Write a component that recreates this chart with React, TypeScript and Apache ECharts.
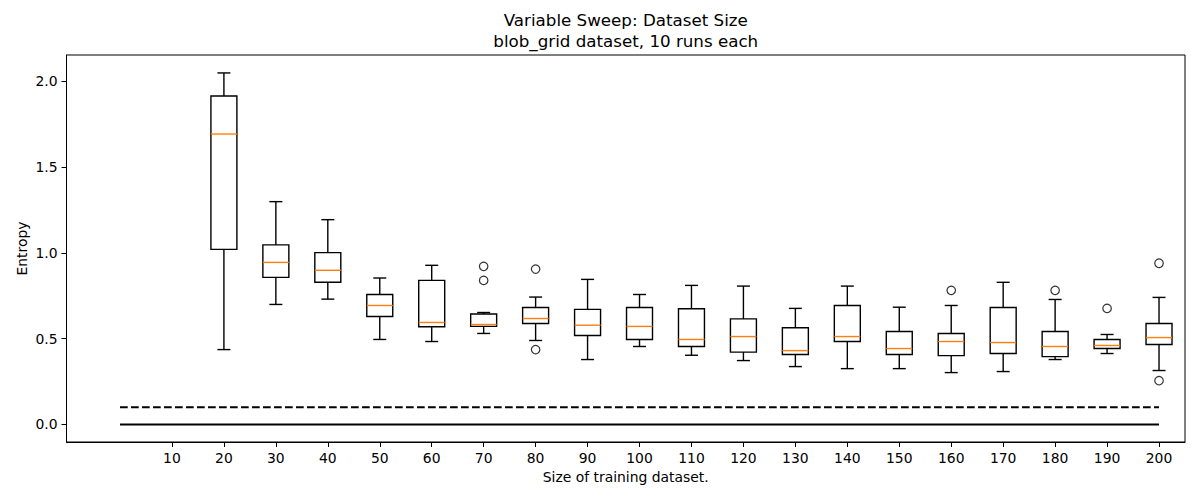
import React, { useEffect, useRef } from "react";
import * as echarts from "echarts";

const positions = [2, 3, 4, 5, 6, 7, 8, 9, 10, 11, 12, 13, 14, 15, 16, 17, 18, 19, 20];
const whiskerLow = [0.436, 0.699, 0.730, 0.495, 0.483, 0.530, 0.489, 0.378, 0.454, 0.403, 0.372, 0.337, 0.325, 0.325, 0.302, 0.308, 0.378, 0.413, 0.314];
const q1 = [1.020, 0.857, 0.828, 0.629, 0.569, 0.571, 0.588, 0.518, 0.495, 0.454, 0.421, 0.407, 0.483, 0.407, 0.401, 0.413, 0.395, 0.442, 0.466];
const median = [1.692, 0.944, 0.898, 0.693, 0.594, 0.582, 0.617, 0.578, 0.571, 0.495, 0.512, 0.430, 0.512, 0.442, 0.483, 0.477, 0.454, 0.460, 0.506];
const q3 = [1.914, 1.046, 1.001, 0.757, 0.839, 0.643, 0.681, 0.670, 0.681, 0.674, 0.615, 0.563, 0.693, 0.541, 0.530, 0.681, 0.541, 0.495, 0.588];
const whiskerHigh = [2.048, 1.298, 1.193, 0.853, 0.927, 0.652, 0.742, 0.845, 0.757, 0.810, 0.806, 0.676, 0.806, 0.683, 0.693, 0.828, 0.728, 0.524, 0.740];
const outliers: [number, number][] = [
  [7, 0.921], [7, 0.839],
  [8, 0.905], [8, 0.436],
  [16, 0.781],
  [18, 0.781],
  [19, 0.676],
  [20, 0.939], [20, 0.255],
];
const tickPositions = [1, 2, 3, 4, 5, 6, 7, 8, 9, 10, 11, 12, 13, 14, 15, 16, 17, 18, 19, 20];
const tickLabels = ["10", "20", "30", "40", "50", "60", "70", "80", "90", "100", "110", "120", "130", "140", "150", "160", "170", "180", "190", "200"];
const yTicks = [0, 0.5, 1.0, 1.5, 2.0];
const refLineSolid: [number, number][] = [[0, 0], [20, 0]];
const refLineDashed: [number, number][] = [[0, 0.1], [20, 0.1]];

const FONT = "DejaVu Sans";

export default function App() {
  const ref = useRef<HTMLDivElement>(null);
  useEffect(() => {
    if (!ref.current) return;
    const chart = echarts.init(ref.current, null, { renderer: "svg" });
    const boxData = positions.map((p, i) => [p, whiskerLow[i], q1[i], median[i], q3[i], whiskerHigh[i]]);
    const gridLeft = 66.5, gridRight = 1185, gridTop = 55, gridBottom = 442;
    const cx = (gridLeft + gridRight) / 2;
    const option: any = {
      animation: false,
      textStyle: { fontFamily: FONT },
      grid: {
        left: gridLeft,
        top: gridTop,
        width: gridRight - gridLeft,
        height: gridBottom - gridTop,
        show: true,
        borderColor: "#000",
        borderWidth: 1,
        backgroundColor: "#fff",
      },
      xAxis: {
        type: "value",
        min: -1.03,
        max: 20.5,
        splitLine: { show: false },
        axisLine: { show: true, onZero: false, lineStyle: { color: "#000", width: 1 } },
        axisTick: { show: true, customValues: tickPositions, length: 5, lineStyle: { color: "#000" } },
        axisLabel: {
          customValues: tickPositions,
          formatter: (v: number) => {
            const idx = tickPositions.indexOf(Math.round(v));
            return idx >= 0 ? tickLabels[idx] : "";
          },
          color: "#000",
          fontSize: 13.9,
          fontFamily: FONT,
          margin: 9,
        },
      },
      yAxis: {
        type: "value",
        min: -0.1025,
        max: 2.1525,
        splitLine: { show: false },
        axisLine: { show: true, onZero: false, lineStyle: { color: "#000", width: 1 } },
        axisTick: { show: true, customValues: yTicks, length: 5, lineStyle: { color: "#000" } },
        axisLabel: {
          customValues: yTicks,
          formatter: (v: number) => v.toFixed(1),
          color: "#000",
          fontSize: 13.9,
          fontFamily: FONT,
          margin: 9,
        },
      },
      graphic: [
        {
          type: "text",
          x: cx,
          y: 20,
          style: { text: "Variable Sweep: Dataset Size", fontSize: 16.7, fontFamily: FONT, fill: "#000", textAlign: "center", textVerticalAlign: "middle" },
        },
        {
          type: "text",
          x: cx,
          y: 41,
          style: { text: "blob_grid dataset, 10 runs each", fontSize: 16.7, fontFamily: FONT, fill: "#000", textAlign: "center", textVerticalAlign: "middle" },
        },
        {
          type: "text",
          x: cx,
          y: 477,
          style: { text: "Size of training dataset.", fontSize: 13.9, fontFamily: FONT, fill: "#000", textAlign: "center", textVerticalAlign: "middle" },
        },
        {
          type: "text",
          x: 22,
          y: (gridTop + gridBottom) / 2,
          rotation: Math.PI / 2,
          style: { text: "Entropy", fontSize: 13.9, fontFamily: FONT, fill: "#000", textAlign: "center", textVerticalAlign: "middle" },
        },
      ],
      series: [
        {
          type: "line",
          data: refLineSolid,
          symbol: "none",
          lineStyle: { color: "#000", width: 2 },
          z: 2,
        },
        {
          type: "line",
          data: refLineDashed,
          symbol: "none",
          lineStyle: { color: "#000", width: 2, type: [7.7, 3.3] },
          z: 2,
        },
        {
          type: "custom",
          data: boxData,
          encode: { x: 0, y: [1, 2, 3, 4, 5] },
          z: 3,
          renderItem: (params: any, api: any) => {
            const x = api.value(0);
            const lo = api.value(1), a = api.value(2), m = api.value(3), b = api.value(4), hi = api.value(5);
            const pL = api.coord([x - 0.25, b]);
            const pR = api.coord([x + 0.25, a]);
            const pC = api.coord([x, m]);
            const pLo = api.coord([x, lo]);
            const pHi = api.coord([x, hi]);
            const capL = api.coord([x - 0.125, lo])[0];
            const capR = api.coord([x + 0.125, lo])[0];
            const st = { stroke: "#000", lineWidth: 1.4, fill: null };
            return {
              type: "group",
              children: [
                { type: "line", shape: { x1: pC[0], y1: pL[1], x2: pC[0], y2: pHi[1] }, style: st },
                { type: "line", shape: { x1: pC[0], y1: pR[1], x2: pC[0], y2: pLo[1] }, style: st },
                { type: "line", shape: { x1: capL, y1: pHi[1], x2: capR, y2: pHi[1] }, style: st },
                { type: "line", shape: { x1: capL, y1: pLo[1], x2: capR, y2: pLo[1] }, style: st },
                { type: "rect", shape: { x: pL[0], y: pL[1], width: pR[0] - pL[0], height: pR[1] - pL[1] }, style: { stroke: "#000", lineWidth: 1.4, fill: "none" } },
                { type: "line", shape: { x1: pL[0], y1: pC[1], x2: pR[0], y2: pC[1] }, style: { stroke: "#ff7f0e", lineWidth: 1.4 } },
              ],
            };
          },
        },
        {
          type: "scatter",
          data: outliers,
          symbol: "circle",
          symbolSize: 8.5,
          itemStyle: { color: "rgba(0,0,0,0)", borderColor: "#000", borderWidth: 1.2 },
          z: 4,
        },
      ],
    };
    chart.setOption(option);
    return () => chart.dispose();
  }, []);
  return (
    <div
      ref={ref}
      style={{ position: "fixed", left: 0, top: 0, width: 1200, height: 500, background: "#fff" }}
    />
  );
}
